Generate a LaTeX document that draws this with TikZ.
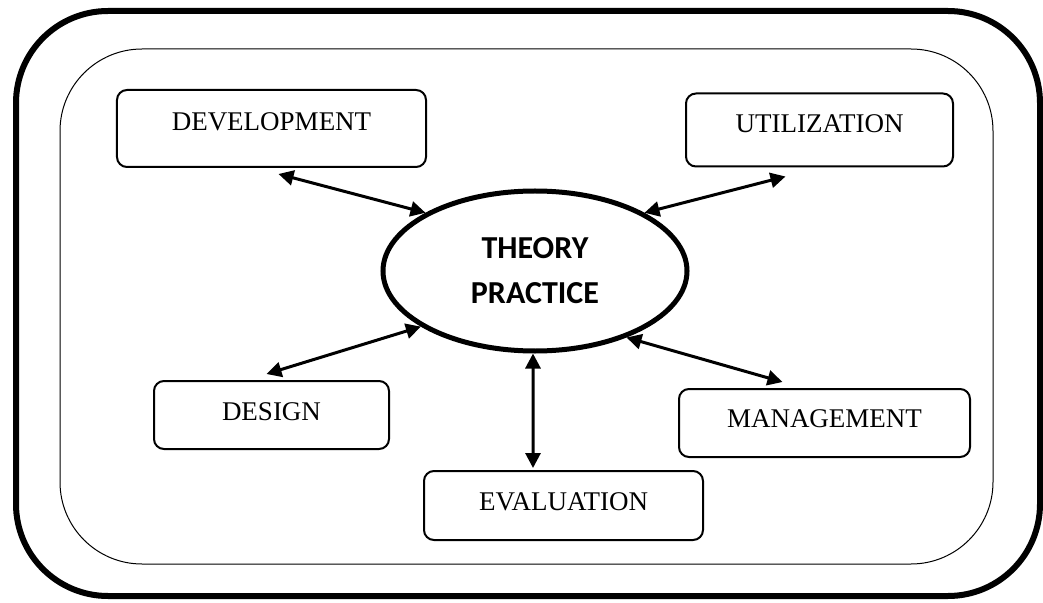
\documentclass[tikz,border=0pt]{standalone}
\usepackage{fontspec}
\setmainfont{Liberation Serif}
\newfontfamily\headfont{Carlito}
\usetikzlibrary{shapes.geometric,arrows.meta}
\begin{document}
\begin{tikzpicture}[x=1bp,y=-1bp,
  box/.style={draw,line width=2bp,rounded corners=10bp,inner sep=0pt,
    font=\fontsize{27bp}{31bp}\selectfont},
  link/.style={{Triangle[length=15bp,width=15bp]}-{Triangle[length=15bp,width=15bp]},line width=3bp}]
\useasboundingbox (0,0) rectangle (1043,603);
\draw[line width=6bp,rounded corners=92bp] (16,11) rectangle (1040,596);
\draw[line width=1bp,rounded corners=82bp] (60,49) rectangle (993,564);
\node[draw,ellipse,line width=5bp,minimum width=304bp,minimum height=160bp,
  align=center,font=\headfont\bfseries\fontsize{32bp}{45bp}\selectfont] (th) at (535,271) {THEORY\\PRACTICE};
\node[box,minimum width=309bp,minimum height=77bp,text depth=13bp] (dev) at (271.5,128.5) {DEVELOPMENT};
\node[box,minimum width=267bp,minimum height=73bp,text depth=12bp] (util) at (819.5,130) {UTILIZATION};
\node[box,minimum width=235bp,minimum height=68bp,text depth=6bp] (des) at (271.5,415) {DESIGN};
\node[box,minimum width=291bp,minimum height=68bp,text depth=8bp] (man) at (824.5,423) {MANAGEMENT};
\node[box,minimum width=279bp,minimum height=69bp,text depth=8bp] (eva) at (563.5,505.5) {EVALUATION};
\draw[link] ([xshift=7bp,yshift=-6bp]dev.south) -- (th.152);
\draw[link] ([xshift=-34bp,yshift=-9bp]util.south) -- (th.28);
\draw[link] ([xshift=-5bp,yshift=6bp]des.north) -- (th.206);
\draw[link] ([xshift=-42bp,yshift=6bp]man.north) -- (th.324);
\draw[link] ([xshift=-30.5bp,yshift=2bp]eva.north) -- ([xshift=-2bp]th.south);
\end{tikzpicture}
\end{document}
